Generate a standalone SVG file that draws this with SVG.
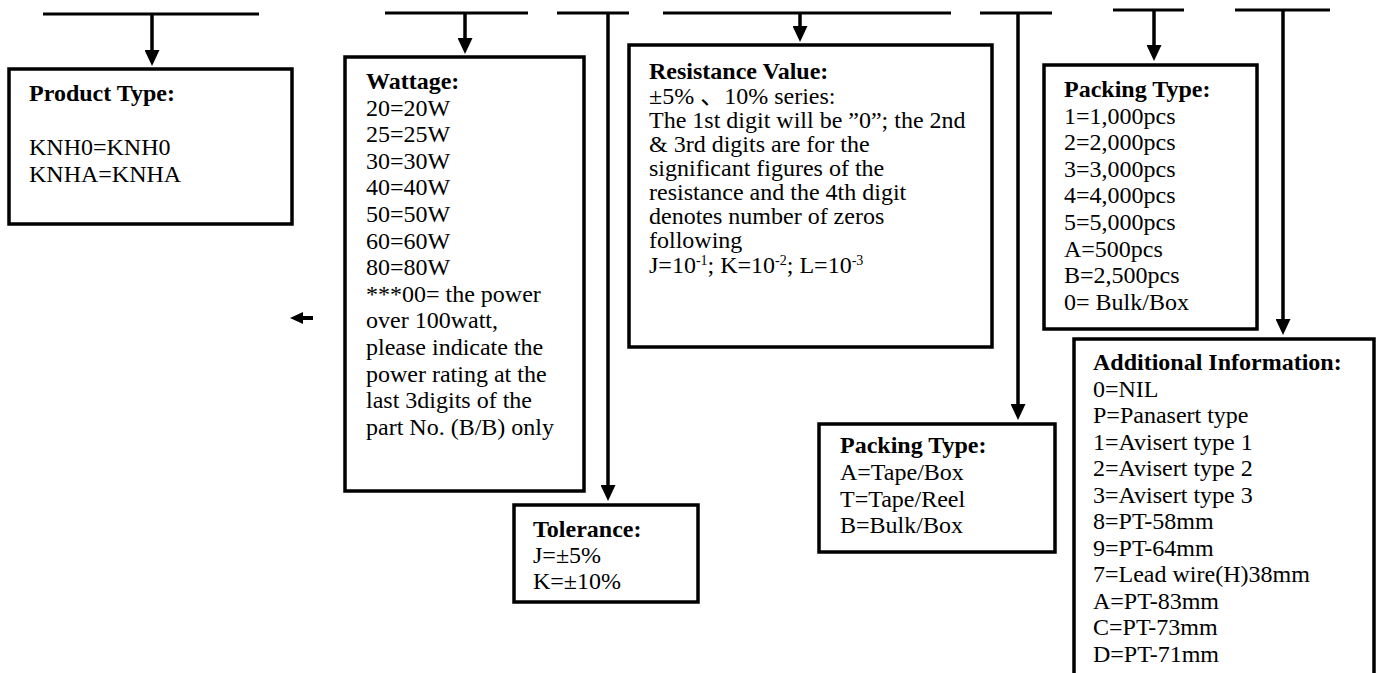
<svg xmlns="http://www.w3.org/2000/svg" width="1376" height="673" viewBox="0 0 1376 673">
<style>
.bar{stroke:#000;stroke-width:3;fill:none}
.ln{stroke:#000;stroke-width:3.5;fill:none}
.box{fill:#fff;stroke:#000;stroke-width:3.5}
.t{font-family:"Liberation Serif","Noto Sans CJK SC",serif;font-size:24px;fill:#000}
.b{font-weight:bold}
</style>
<defs>
<marker id="ah" viewBox="0 0 16 15" refX="8" refY="7.5" markerWidth="16" markerHeight="15" markerUnits="userSpaceOnUse" orient="auto">
<path d="M0,0 L16,7.5 L0,15 z" fill="#000"/>
</marker>
</defs>
<rect width="1376" height="673" fill="#fff"/>
<g id="connectors">
<path class="bar" d="M43,14 H259"/>
<path class="bar" d="M385,13 H528"/>
<path class="bar" d="M557,13 H629"/>
<path class="bar" d="M663,13 H951"/>
<path class="bar" d="M980,13 H1052"/>
<path class="bar" d="M1113,10 H1184"/>
<path class="bar" d="M1235,10 H1330"/>
<path class="ln" d="M152,14 V58" marker-end="url(#ah)"/>
<path class="ln" d="M465,13 V46" marker-end="url(#ah)"/>
<path class="ln" d="M608,13 V493" marker-end="url(#ah)"/>
<path class="ln" d="M800,13 V34" marker-end="url(#ah)"/>
<path class="ln" d="M1018,13 V412" marker-end="url(#ah)"/>
<path class="ln" d="M1154,10 V53" marker-end="url(#ah)"/>
<path class="ln" d="M1283,10 V327" marker-end="url(#ah)"/>
<path d="M302,318 H313" stroke="#000" stroke-width="4"/>
<path d="M290,318 L303,312 L303,324 z" fill="#000"/>
</g>
<g id="product">
<rect class="box" x="9" y="69" width="283" height="155"/>
<text class="t b" x="29" y="101">Product Type:</text>
<text class="t" x="29" y="155">KNH0=KNH0</text>
<text class="t" x="29" y="182">KNHA=KNHA</text>
</g>
<g id="wattage">
<rect class="box" x="345" y="57" width="239" height="434"/>
<text class="t b" x="366" y="89">Wattage:</text>
<text class="t" x="366" y="115.6">20=20W</text>
<text class="t" x="366" y="142.2">25=25W</text>
<text class="t" x="366" y="168.8">30=30W</text>
<text class="t" x="366" y="195.4">40=40W</text>
<text class="t" x="366" y="222">50=50W</text>
<text class="t" x="366" y="248.6">60=60W</text>
<text class="t" x="366" y="275.2">80=80W</text>
<text class="t" x="366" y="301.8">***00= the power</text>
<text class="t" x="366" y="328.4">over 100watt,</text>
<text class="t" x="366" y="355">please indicate the</text>
<text class="t" x="366" y="381.6">power rating at the</text>
<text class="t" x="366" y="408.2">last 3digits of the</text>
<text class="t" x="366" y="434.8">part No. (B/B) only</text>
</g>
<g id="tolerance">
<rect class="box" x="514" y="505" width="184" height="97"/>
<text class="t b" x="533" y="537">Tolerance:</text>
<text class="t" x="533" y="563">J=±5%</text>
<text class="t" x="533" y="589">K=±10%</text>
</g>
<g id="resistance">
<rect class="box" x="629" y="45" width="363" height="302"/>
<text class="t b" x="649" y="79">Resistance Value:</text>
<text class="t" x="649" y="104">±5% 、10% series:</text>
<text class="t" x="649" y="128">The 1st digit will be ”0”; the 2nd</text>
<text class="t" x="649" y="152">&amp; 3rd digits are for the</text>
<text class="t" x="649" y="176">significant figures of the</text>
<text class="t" x="649" y="200">resistance and the 4th digit</text>
<text class="t" x="649" y="224">denotes number of zeros</text>
<text class="t" x="649" y="248">following</text>
<text class="t" x="649" y="273">J=10<tspan font-size="14" dy="-8">-1</tspan><tspan dy="8">; K=10</tspan><tspan font-size="14" dy="-8">-2</tspan><tspan dy="8">; L=10</tspan><tspan font-size="14" dy="-8">-3</tspan></text>
</g>
<g id="packing-tape">
<rect class="box" x="819" y="424" width="236" height="128"/>
<text class="t b" x="840" y="453">Packing Type:</text>
<text class="t" x="840" y="480">A=Tape/Box</text>
<text class="t" x="840" y="507">T=Tape/Reel</text>
<text class="t" x="840" y="533">B=Bulk/Box</text>
</g>
<g id="packing-qty">
<rect class="box" x="1044" y="65" width="213" height="264"/>
<text class="t b" x="1064" y="97">Packing Type:</text>
<text class="t" x="1064" y="123.6">1=1,000pcs</text>
<text class="t" x="1064" y="150.2">2=2,000pcs</text>
<text class="t" x="1064" y="176.8">3=3,000pcs</text>
<text class="t" x="1064" y="203.4">4=4,000pcs</text>
<text class="t" x="1064" y="230">5=5,000pcs</text>
<text class="t" x="1064" y="256.6">A=500pcs</text>
<text class="t" x="1064" y="283.2">B=2,500pcs</text>
<text class="t" x="1064" y="309.8">0= Bulk/Box</text>
</g>
<g id="additional">
<rect class="box" x="1074" y="339" width="300" height="400"/>
<text class="t b" x="1093" y="370">Additional Information:</text>
<text class="t" x="1093" y="396.5">0=NIL</text>
<text class="t" x="1093" y="423">P=Panasert type</text>
<text class="t" x="1093" y="449.5">1=Avisert type 1</text>
<text class="t" x="1093" y="476">2=Avisert type 2</text>
<text class="t" x="1093" y="502.5">3=Avisert type 3</text>
<text class="t" x="1093" y="529">8=PT-58mm</text>
<text class="t" x="1093" y="555.5">9=PT-64mm</text>
<text class="t" x="1093" y="582">7=Lead wire(H)38mm</text>
<text class="t" x="1093" y="608.5">A=PT-83mm</text>
<text class="t" x="1093" y="635">C=PT-73mm</text>
<text class="t" x="1093" y="661.5">D=PT-71mm</text>
</g>
</svg>
